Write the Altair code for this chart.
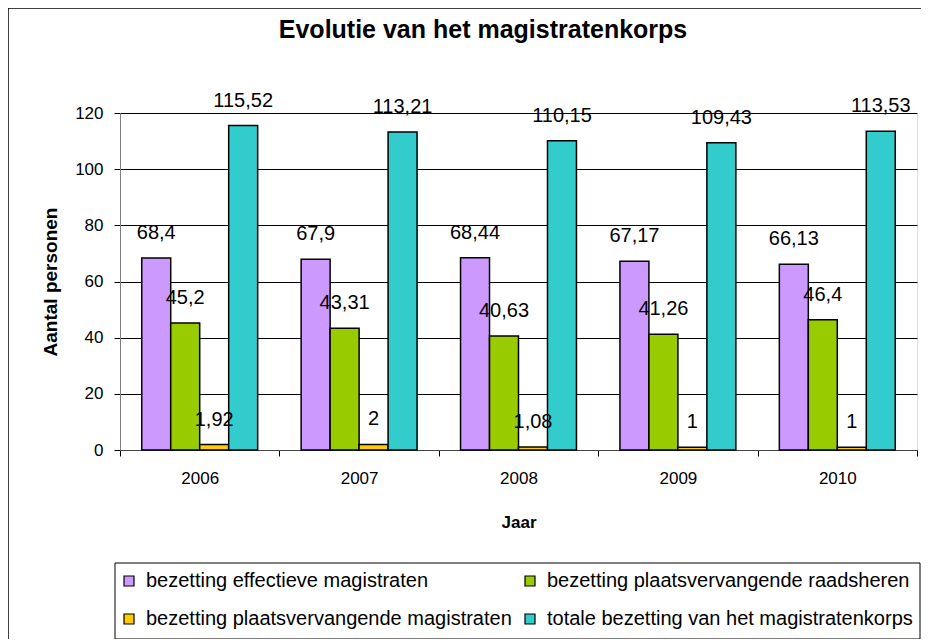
import altair as alt
import pandas as pd

years = ["2006", "2007", "2008", "2009", "2010"]
series = [
    "bezetting effectieve magistraten",
    "bezetting plaatsvervangende raadsheren",
    "bezetting plaatsvervangende magistraten",
    "totale bezetting van het magistratenkorps",
]
effectieve = [68.4, 67.9, 68.44, 67.17, 66.13]
raadsheren = [45.2, 43.31, 40.63, 41.26, 46.4]
plaatsv_mag = [1.92, 2, 1.08, 1, 1]
totaal = [115.52, 113.21, 110.15, 109.43, 113.53]
colors = ["#CC99FF", "#99CC00", "#FFCC00", "#33CCCC"]
title_text = "Evolutie van het magistratenkorps"

rows = []
for vals, s in zip([effectieve, raadsheren, plaatsv_mag, totaal], series):
    for y, v in zip(years, vals):
        rows.append({"Jaar": y, "serie": s, "waarde": v})
df = pd.DataFrame(rows)

FONT = "Liberation Sans"
W, H = 797, 337

x_enc = alt.X(
    "Jaar:N",
    sort=years,
    scale=alt.Scale(paddingInner=0, paddingOuter=0),
    axis=alt.Axis(
        title="Jaar",
        labelAngle=0,
        tickBand="extent",
        tickSize=6,
        tickColor="#000000",
        domainColor="#444444",
        labelPadding=14,
        labelFontSize=17,
        titleFontSize=17,
        titleFontWeight="bold",
        titlePadding=28,
        labelFont=FONT,
        titleFont=FONT,
        labelColor="black",
        titleColor="black",
        grid=False,
    ),
)
xoff = alt.XOffset(
    "serie:N", sort=series, scale=alt.Scale(paddingInner=0, paddingOuter=0.75)
)
y_enc = alt.Y(
    "waarde:Q",
    scale=alt.Scale(domain=[0, 120], nice=False),
    axis=alt.Axis(
        title="Aantal personen",
        values=[0, 20, 40, 60, 80, 100, 120],
        tickSize=6,
        tickColor="#000000",
        domainColor="#808080",
        labelPadding=11,
        labelFontSize=17,
        titleFontSize=19,
        titleFontWeight="bold",
        titlePadding=14,
        labelFont=FONT,
        titleFont=FONT,
        labelColor="black",
        titleColor="black",
        grid=True,
        gridColor="#000000",
        gridWidth=1,
    ),
)

legend_order = [series[0], series[2], series[1], series[3]]

bars = alt.Chart(df).mark_bar(stroke="black", strokeWidth=1.5).encode(
    x=x_enc,
    xOffset=xoff,
    y=y_enc,
    color=alt.Color(
        "serie:N",
        sort=series,
        scale=alt.Scale(domain=series, range=colors),
        legend=alt.Legend(
            title=None,
            orient="none",
            legendX=-1,
            legendY=458,
            columns=2,
            columnPadding=8,
            rowPadding=18,
            values=legend_order,
            symbolType="square",
            symbolSize=100,
            symbolStrokeColor="black",
            symbolStrokeWidth=1.2,
            labelOffset=7,
            labelFontSize=20,
            labelFont=FONT,
            labelColor="black",
            labelLimit=600,
        ),
    ),
)

labels = alt.Chart(df).transform_calculate(
    lbl="replace(toString(datum.waarde), '.', ',')"
).mark_text(
    fontSize=20, font=FONT, color="black", dy=-25, baseline="middle"
).encode(
    x=alt.X("Jaar:N", sort=years),
    xOffset=alt.XOffset("serie:N", sort=series),
    y=alt.Y("waarde:Q"),
    text="lbl:N",
)

frame_data = alt.Data(values=[{"t": title_text}])
border_top = alt.Chart(frame_data).mark_rule(stroke="black", strokeWidth=1.5).encode(
    x=alt.value(-112), x2=alt.value(820), y=alt.value(-105)
)
border_left = alt.Chart(frame_data).mark_rule(stroke="black", strokeWidth=1.5).encode(
    x=alt.value(-112), y=alt.value(-105), y2=alt.value(560)
)
legend_box = alt.Chart(frame_data).mark_rect(
    fill=None, stroke="black", strokeWidth=1
).encode(
    x=alt.value(-5), x2=alt.value(800), y=alt.value(450), y2=alt.value(526)
)
title = alt.Chart(frame_data).mark_text(
    fontSize=25, font=FONT, fontWeight="bold", color="black",
    baseline="middle", align="center",
).encode(x=alt.value(363), y=alt.value(-83), text="t:N")

chart = alt.layer(border_top, border_left, legend_box, title, bars, labels).properties(
    width=W,
    height=H,
    autosize=alt.AutoSizeParams(type="none"),
    padding={"left": 112, "top": 105, "right": 4, "bottom": 189},
).configure_view(stroke="#808080", strokeWidth=1.5).configure(background="white")

chart.save("out.html", embed_options={"renderer": "svg", "actions": False})
